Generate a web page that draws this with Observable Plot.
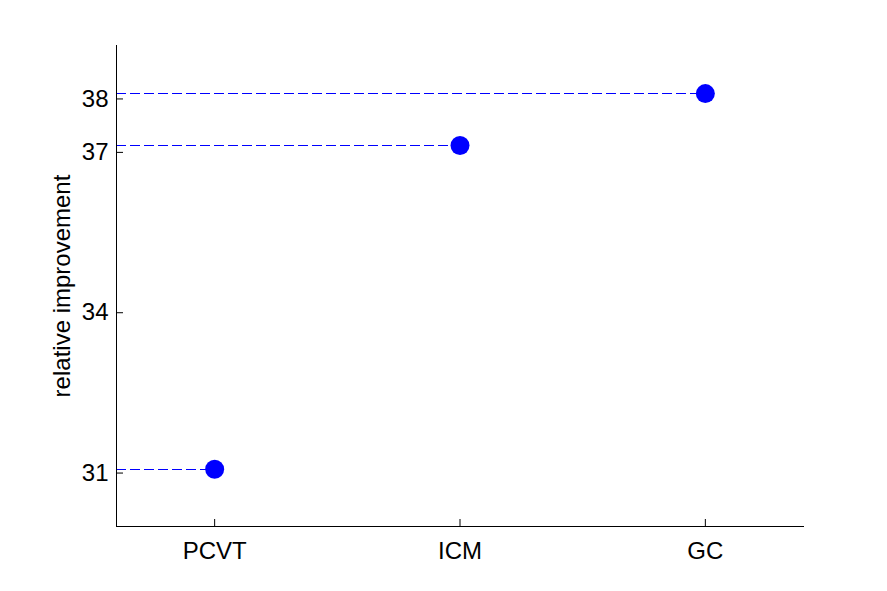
<!DOCTYPE html>
<html>
<head>
<meta charset="utf-8">
<script src="https://cdn.jsdelivr.net/npm/d3@7"></script>
<script src="https://cdn.jsdelivr.net/npm/@observablehq/plot@0.6"></script>
<style>
  html, body { margin: 0; padding: 0; background: #fff; }
  svg { display: block; }
</style>
</head>
<body>
<div id="chart"></div>
<script>
const categories = ["PCVT", "ICM", "GC"];
const values = [31.07, 37.13, 38.10];
const yTicks = [31, 34, 37, 38];
const yLabel = "relative improvement";

const data = categories.map((c, i) => ({cat: c, pos: i + 1, value: values[i]}));
const xMin = 0.6, xMax = 3.4;

const chart = Plot.plot({
  width: 887,
  height: 591,
  marginLeft: 116,
  marginRight: 84,
  marginTop: 45,
  marginBottom: 65,
  style: {fontFamily: "Liberation Sans, Arial, sans-serif", background: "#fff"},
  x: {domain: [xMin, xMax]},
  y: {domain: [30, 39]},
  marks: [
    Plot.ruleY(data, {y: "value", x1: xMin, x2: "pos", stroke: "#0000ff", strokeWidth: 1, strokeDasharray: "10,4", shapeRendering: "crispEdges"}),
    Plot.dot(data, {x: "pos", y: "value", r: 9.5, fill: "#0000ff", stroke: "none"}),
    Plot.axisY({ticks: yTicks, tickFormat: d => String(d), tickSize: -7, tickPadding: 15, fontSize: 24, label: null, stroke: "#000", color: "#000"}),
    Plot.text([yLabel], {frameAnchor: "left", textAnchor: "middle", dx: -54, rotate: -90, fontSize: 24, fill: "#000"}),
    Plot.axisX({ticks: [1, 2, 3], tickFormat: d => categories[d - 1], tickSize: -7, tickPadding: 22, fontSize: 24, label: null, stroke: "#000", color: "#000"}),
    Plot.frame({anchor: "left", stroke: "#000", shapeRendering: "crispEdges"}),
    Plot.frame({anchor: "bottom", stroke: "#000", shapeRendering: "crispEdges"})
  ]
});
document.getElementById("chart").appendChild(chart);
</script>
</body>
</html>
